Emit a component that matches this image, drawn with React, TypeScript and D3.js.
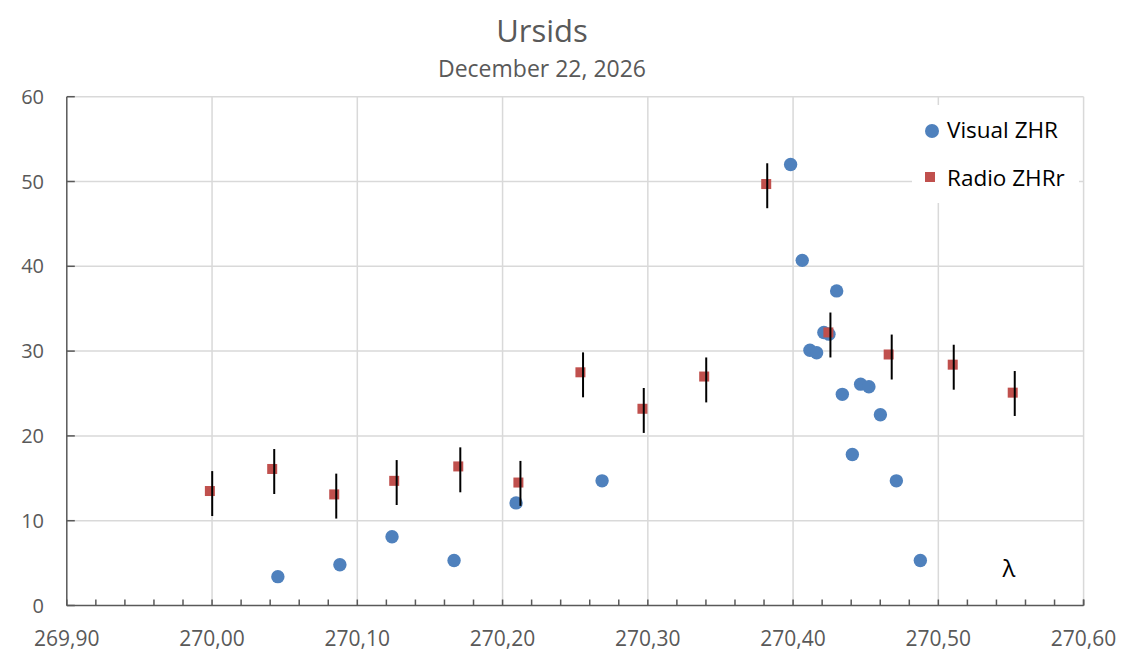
import React from "react";
import * as d3 from "d3";

// ---- Data ----
const visualLambda = [
  270.0453, 270.088, 270.1239, 270.1666, 270.2093, 270.2685, 270.3983, 270.4063,
  270.4116, 270.4162, 270.4212, 270.4247, 270.43, 270.4339, 270.4408, 270.4465,
  270.4522, 270.4601, 270.4711, 270.4876,
];
const visualZHR = [
  3.4, 4.8, 8.1, 5.3, 12.1, 14.7, 52.0, 40.7, 30.1, 29.8, 32.2, 32.0, 37.1, 24.9,
  17.8, 26.1, 25.8, 22.5, 14.7, 5.3,
];

const radioLambda = [
  269.9985, 270.0414, 270.0841, 270.1254, 270.1695, 270.2109, 270.2536, 270.2963,
  270.3388, 270.3815, 270.4243, 270.4658, 270.5099, 270.5512,
];
const radioZHR = [
  13.5, 16.1, 13.1, 14.7, 16.4, 14.5, 27.5, 23.2, 27.0, 49.7, 32.2, 29.6, 28.4, 25.1,
];
// error bars (drawn as a separate series in the original)
const radioErrLambda = [
  270.0001, 270.0428, 270.0855, 270.1271, 270.1709, 270.2123, 270.2554, 270.2972,
  270.3402, 270.3822, 270.4257, 270.4679, 270.5106, 270.5526,
];
const radioErrCenter = [
  13.2, 15.8, 12.9, 14.5, 16.0, 14.4, 27.2, 23.0, 26.6, 49.5, 31.9, 29.3, 28.1, 25.0,
];
const radioErrHalf = [
  2.65, 2.65, 2.65, 2.65, 2.65, 2.65, 2.65, 2.65, 2.65, 2.65, 2.65, 2.65, 2.65, 2.65,
];

const xTicks = [269.9, 270.0, 270.1, 270.2, 270.3, 270.4, 270.5, 270.6];
const yTicks = [0, 10, 20, 30, 40, 50, 60];

const title = "Ursids";
const subtitle = "December 22, 2026";
const seriesNames = ["Visual ZHR", "Radio ZHRr"];

// ---- Styles ----
const W = 1134;
const H = 672;
const FONT = "'Open Sans', 'Liberation Sans', sans-serif";
const GRID = "#d9d9d9";
const AXIS = "#595959";
const TEXT = "#595959";
const BLUE = "#4f81bd";
const RED = "#c0504d";

export default function App() {
  const x = d3.scaleLinear().domain([269.9, 270.6]).range([66.8, 1083.6]);
  const y = d3.scaleLinear().domain([0, 60]).range([605.5, 96.7]);
  const fmt = (v: number) => d3.format(".2f")(v).replace(".", ",");
  const minor = d3.range(0, 36).map((i) => 269.9 + i * 0.02);

  return (
    <svg
      width={W}
      height={H}
      style={{ position: "absolute", left: 0, top: 0, background: "#fff" }}
      fontFamily={FONT}
    >
      <rect x={0} y={0} width={W} height={H} fill="#fff" />
      {/* Title */}
      <text x={542} y={42} textAnchor="middle" fontSize={31} fill={TEXT}>
        {title}
      </text>
      <text x={542} y={77} textAnchor="middle" fontSize={23} fill={TEXT}>
        {subtitle}
      </text>

      {/* Gridlines */}
      {yTicks.filter((t) => t > 0).map((t) => (
        <line key={"gy" + t} x1={x(269.9)} x2={x(270.6)} y1={y(t)} y2={y(t)} stroke={GRID} strokeWidth={1.5} />
      ))}
      {xTicks.filter((t) => t > 269.95).map((t) => (
        <line key={"gx" + t} x1={x(t)} x2={x(t)} y1={y(0)} y2={y(60)} stroke={GRID} strokeWidth={1.5} />
      ))}

      {/* Legend background */}
      <rect x={912} y={105} width={167} height={98} fill="#fff" />

      {/* Axes */}
      <line x1={x(269.9)} x2={x(269.9)} y1={y(0)} y2={y(60)} stroke={AXIS} strokeWidth={1.5} />
      <line x1={x(269.9)} x2={x(270.6)} y1={y(0)} y2={y(0)} stroke={AXIS} strokeWidth={1.5} />
      {yTicks.map((t) => (
        <line key={"ty" + t} x1={x(269.9)} x2={x(269.9) + 8} y1={y(t)} y2={y(t)} stroke={AXIS} strokeWidth={1.5} />
      ))}
      {minor.map((t, i) => (
        <line key={"tx" + i} x1={x(t)} x2={x(t)} y1={y(0)} y2={y(0) - 6} stroke={AXIS} strokeWidth={1.5} />
      ))}
      <line x1={x(270.6)} x2={x(270.6)} y1={y(0)} y2={y(0) - 6} stroke={AXIS} strokeWidth={1.5} />

      {/* Tick labels */}
      {yTicks.map((t) => (
        <text key={"ly" + t} x={44} y={y(t)} dy="0.35em" textAnchor="end" fontSize={20} fill={TEXT}>
          {t}
        </text>
      ))}
      {xTicks.map((t) => (
        <text key={"lx" + t} x={x(t)} y={646} textAnchor="middle" fontSize={21} fill={TEXT}>
          {fmt(t)}
        </text>
      ))}

      {/* Visual ZHR */}
      {visualLambda.map((l, i) => (
        <circle key={"v" + i} cx={x(l)} cy={y(visualZHR[i])} r={6.7} fill={BLUE} />
      ))}

      {/* Radio ZHRr squares */}
      {radioLambda.map((l, i) => (
        <rect key={"r" + i} x={x(l) - 5} y={y(radioZHR[i]) - 5} width={10} height={10} fill={RED} />
      ))}
      {/* Error bars */}
      {radioErrLambda.map((l, i) => (
        <line
          key={"e" + i}
          x1={x(l)}
          x2={x(l)}
          y1={y(radioErrCenter[i] + radioErrHalf[i])}
          y2={y(radioErrCenter[i] - radioErrHalf[i])}
          stroke="#000"
          strokeWidth={2}
        />
      ))}

      {/* Legend */}
      <circle cx={932} cy={131} r={7} fill={BLUE} />
      <text x={947} y={138} fontSize={22.5} fill="#000">
        {seriesNames[0]}
      </text>
      <rect x={925} y={172} width={10} height={10} fill={RED} />
      <text x={947} y={186} fontSize={22.5} fill="#000">
        {seriesNames[1]}
      </text>

      {/* Lambda label */}
      <text x={1009} y={577} textAnchor="middle" fontSize={24} fill="#000">
        λ
      </text>
    </svg>
  );
}
